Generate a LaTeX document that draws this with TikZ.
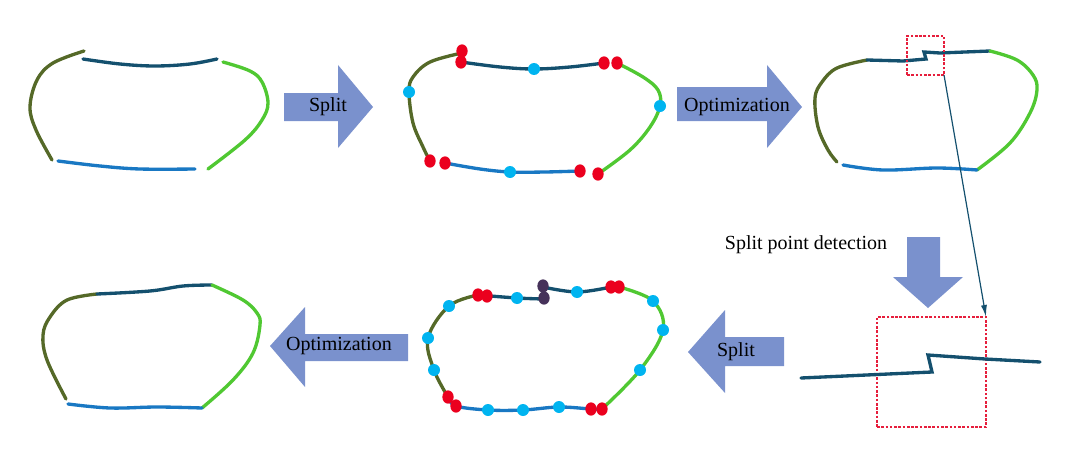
\documentclass[tikz,border=0pt]{standalone}
\usepackage{fontspec}
\setmainfont{Liberation Serif}
\usetikzlibrary{arrows.meta,shapes.geometric}

\definecolor{olivec}{RGB}{85,105,40}
\definecolor{navyc}{RGB}{20,80,110}
\definecolor{skyc}{RGB}{25,120,195}
\definecolor{greenc}{RGB}{80,200,50}
\definecolor{arrowc}{RGB}{122,145,205}
\definecolor{ptred}{RGB}{235,0,30}
\definecolor{ptcyan}{RGB}{0,180,240}
\definecolor{ptpurple}{RGB}{70,50,90}
\definecolor{boxred}{RGB}{230,30,60}

\newcommand*{\curvew}{2.5pt}

\begin{document}
\begin{tikzpicture}
[
	x=0.75pt,y=-0.75pt,
	seg/.style={line width=\curvew,line cap=round,smooth,tension=0.6},
	blockarrow/.style={fill=arrowc},
	lbl/.style={font=\fontsize{15}{18}\selectfont,text=black,inner sep=1pt},
	reddot/.style={ellipse,fill=ptred,inner sep=0pt,minimum width=8.5pt,minimum height=10pt},
	cyandot/.style={circle,fill=ptcyan,inner sep=0pt,minimum size=9pt},
	purpledot/.style={ellipse,fill=ptpurple,inner sep=0pt,minimum width=8.5pt,minimum height=10pt},
	zoombox/.style={draw=boxred,line width=2pt,dash pattern=on 2pt off 1.2pt,outer sep=0pt,inner sep=0pt},
	conn/.style={navyc,line width=0.9pt}
]

	\useasboundingbox (0,0) rectangle (1080,460);

	% panel 1: initial pieces
	\draw[seg,olivec] plot coordinates {(84,51) (53,63) (37,80) (30,107) (36,130) (52,160)};
	\draw[seg,navyc] plot coordinates {(83,59) (120,64) (155,66) (190,64) (217,59)};
	\draw[seg,greenc] plot coordinates {(223,62) (250,71) (262,82) (268,103) (262,120) (245,140) (208,169)};
	\draw[seg,skyc] plot coordinates {(58,161) (100,166) (140,169) (195,169)};

	% arrow: split
	\path[blockarrow] (284,93) -- (338,93) -- (338,65) -- (373,107) -- (338,148) -- (338,121) -- (284,121) -- cycle;
	\node[lbl] (splitA) at (328,107) {Split};

	% panel 2: split points
	\draw[seg,olivec] plot coordinates {(462,53) (430,62) (413,77) (409,92) (413,123) (423,147) (430,161)};
	\draw[seg,navyc] plot coordinates {(461,62) (500,67) (534,69) (570,67) (604,63)};
	\draw[seg,greenc] plot coordinates {(617,63) (643,77) (658,90) (660,106) (650,127) (630,150) (598,174)};
	\draw[seg,skyc] plot coordinates {(445,163) (480,169) (510,172) (545,172) (580,171)};
	\foreach \px/\py [count=\i] in {462/51,461/62,604/63,617/63,430/161,445/163,580/171,598/174}
		\node[reddot] (ra\i) at (\px,\py) {};
	\foreach \px/\py [count=\i] in {409/92,534/69,660/106,510/172}
		\node[cyandot] (ca\i) at (\px,\py) {};

	% arrow: optimization
	\path[blockarrow] (677,87) -- (767,87) -- (767,65) -- (802,107) -- (767,148) -- (767,121) -- (677,121) -- cycle;
	\node[lbl] (optA) at (737,107) {Optimization};

	% panel 3: optimized contour
	\draw[seg,olivec] plot coordinates {(867,60) (837,68) (822,82) (815,98) (818,127) (828,150) (837,162)};
	\draw[line width=\curvew,line cap=round,navyc] (867,60) -- (903,61) -- (926,59) -- (924,52) -- (940,53) -- (990,51);
	\draw[seg,greenc] plot coordinates {(990,51) (1017,60) (1033,75) (1037,90) (1030,113) (1010,143) (977,170)};
	\draw[seg,skyc] plot coordinates {(843,165) (883,170) (937,168) (977,170)};

	% zoom on the kink
	\node[zoombox,minimum width=27.75pt,minimum height=29.25pt] (zoomsmall) at (925.5,55.5) {};
	\node[zoombox,minimum width=81.75pt,minimum height=82.5pt] (zoombig) at (931.5,372) {};
	\draw[conn,-{Latex[length=9pt,width=4.5pt]}] (zoomsmall.south east) -- (zoombig.north east);
	\draw[line width=\curvew,navyc,line cap=round] (801,378) -- (932,372) -- (928,355) -- (985,359) -- (1040,362);

	% arrow: split point detection
	\path[blockarrow] (907,237) -- (940,237) -- (940,277) -- (963,277) -- (928,308) -- (893,277) -- (907,277) -- cycle;
	\node[lbl] (detect) at (806,245) {Split point detection};

	% arrow: split (back)
	\path[blockarrow] (784,337) -- (725,337) -- (725,310) -- (688,352) -- (725,393) -- (725,366) -- (784,366) -- cycle;
	\node[lbl] (splitB) at (736,352) {Split};

	% panel 5: new split points
	\draw[seg,olivec] plot coordinates {(478,295) (449,306) (428,338) (434,370) (448,397)};
	\draw[seg,navyc] plot coordinates {(478,295) (517,298) (544,299)};
	\draw[line width=\curvew,line cap=round,navyc] (544,299) -- (543,287);
	\draw[seg,navyc] plot coordinates {(543,287) (577,292) (611,287)};
	\draw[seg,greenc] plot coordinates {(619,287) (653,301) (663,330) (640,370) (602,409)};
	\draw[seg,skyc] plot coordinates {(448,397) (456,406) (488,410) (523,410) (559,407) (591,409) (602,409)};
	\foreach \px/\py [count=\i] in {478/295,487/296,611/287,619/287,448/397,456/406,591/409,602/409}
		\node[reddot] (rb\i) at (\px,\py) {};
	\foreach \px/\py [count=\i] in {449/306,428/338,434/370,517/298,577/292,653/301,663/330,640/370,488/410,523/410,559/407}
		\node[cyandot] (cb\i) at (\px,\py) {};
	\node[purpledot] (pb1) at (543,286) {};
	\node[purpledot] (pb2) at (544,298) {};

	% arrow: optimization (back)
	\path[blockarrow] (408,334) -- (305,334) -- (305,307) -- (270,346) -- (305,387) -- (305,361) -- (408,361) -- cycle;
	\node[lbl] (optB) at (339,346) {Optimization};

	% panel 6: final contour
	\draw[seg,olivec] plot coordinates {(97,294) (67,300) (50,317) (43,335) (47,360) (66,399)};
	\draw[seg,navyc] plot coordinates {(97,294) (150,291) (183,286) (212,285)};
	\draw[seg,greenc] plot coordinates {(212,285) (243,300) (257,313) (260,325) (253,353) (233,380) (202,408)};
	\draw[seg,skyc] plot coordinates {(68,404) (110,408) (157,407) (202,408)};

\end{tikzpicture}
\end{document}
